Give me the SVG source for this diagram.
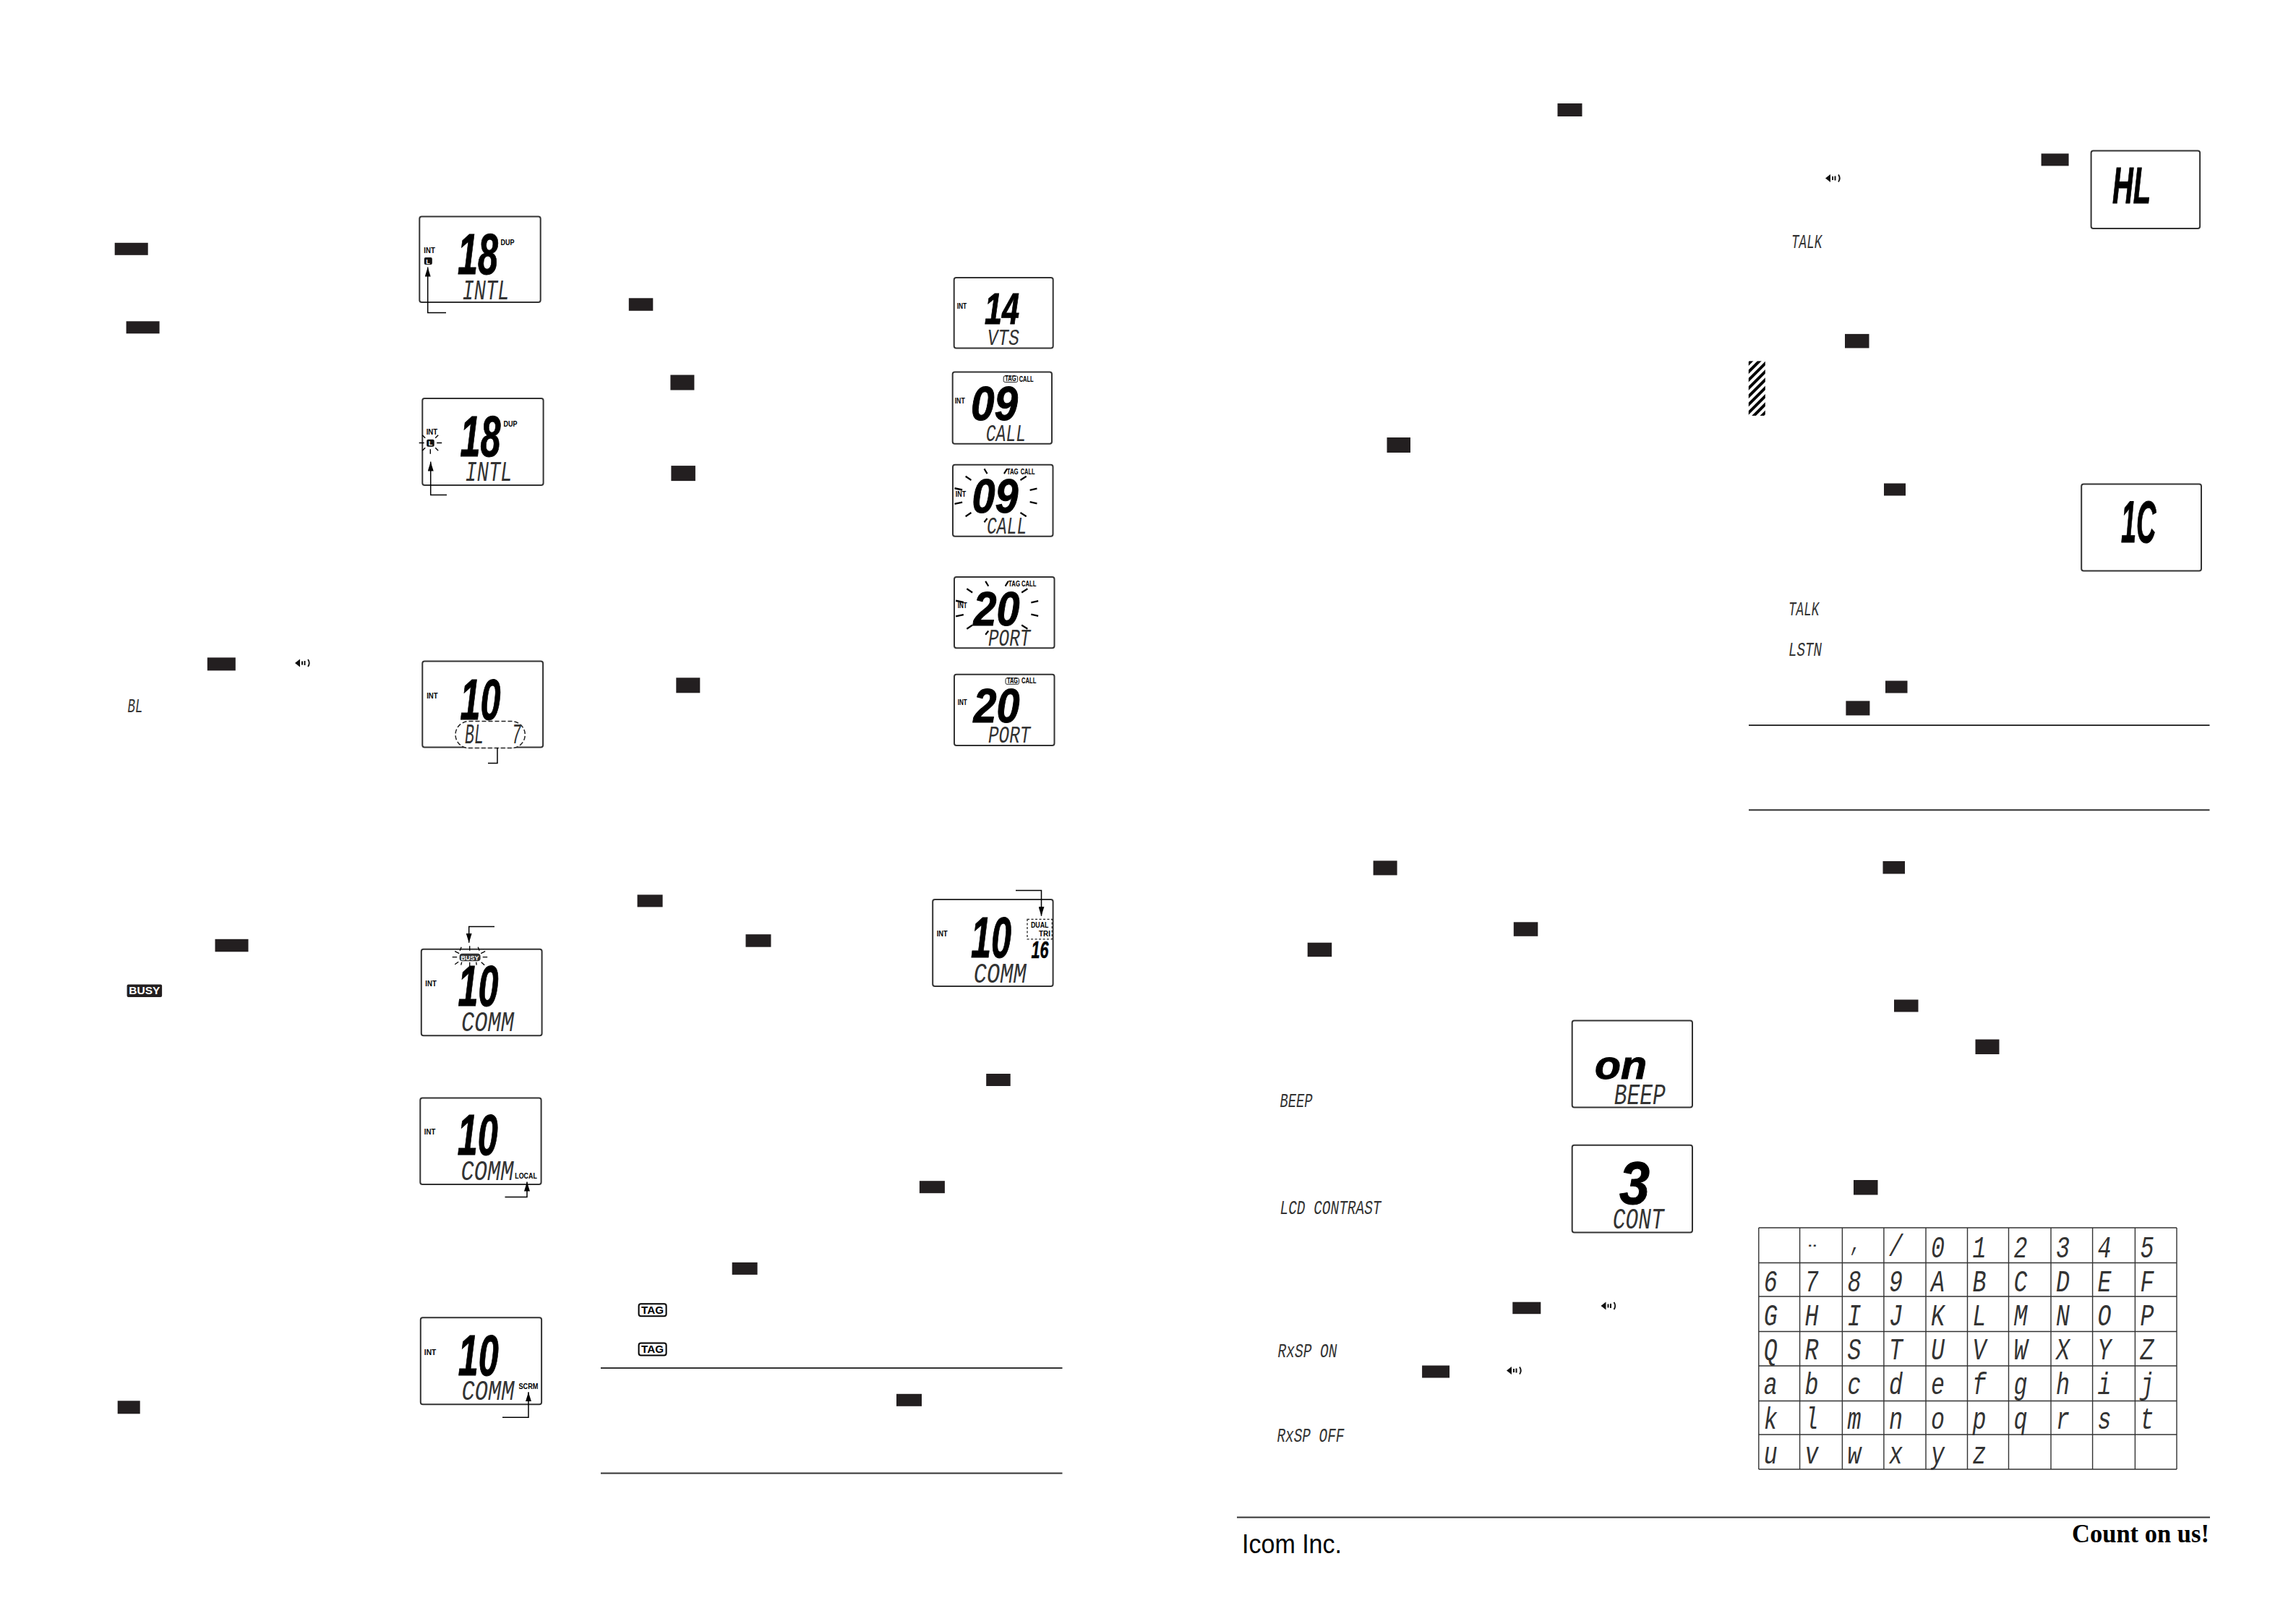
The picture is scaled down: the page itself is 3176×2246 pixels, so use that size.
<svg xmlns="http://www.w3.org/2000/svg" width="3176" height="2246" viewBox="0 0 3176 2246">
<style>
text{font-family:"Liberation Sans",Arial,sans-serif;fill:#000}
.k{fill:#231f20}
.box{fill:#fff;stroke:#333;stroke-width:2}
.lbl{font-weight:700;font-size:10.5px}
.big{font-weight:700;font-style:italic;stroke:#000;stroke-width:1}
.seg{font-family:"Liberation Mono","Courier New",monospace;font-style:italic;fill:#333;white-space:pre}
.rule{stroke:#333;stroke-width:2;fill:none}
.cn{stroke:#000;stroke-width:1.5;fill:none}
.ray{stroke:#000;fill:none}
.grid{stroke:#333;stroke-width:1.4;fill:none}
.wt{fill:#fff;font-weight:700}
</style>
<defs>
<marker id="ah" markerUnits="userSpaceOnUse" markerWidth="13" markerHeight="8" refX="13" refY="4" orient="auto" viewBox="0 0 13 8"><path d="M0 0L13 4L0 8Z" fill="#000"/></marker>
<pattern id="hatch" patternUnits="userSpaceOnUse" width="8" height="8" patternTransform="rotate(45)"><rect width="8" height="8" fill="#fff"/><rect width="4" height="8" fill="#000"/></pattern>
<symbol id="spk" viewBox="0 0 22 12" overflow="visible"><path d="M0 6L7 .5V11.500Z" fill="#111"/><path d="M10 3.500V8.500M13.500 3V9" stroke="#111" stroke-width="2" fill="none"/><path d="M18 1Q21.500 6 18 11" stroke="#111" stroke-width="1.800" fill="none"/></symbol>
</defs>
<rect width="3176" height="2246" fill="#fff"/>

<g id="key-marks">
<rect class="k" x="158.700" y="335.800" width="46" height="17"/>
<rect class="k" x="174.600" y="444.300" width="46" height="17"/>
<rect class="k" x="286.800" y="909.400" width="39" height="18"/>
<rect class="k" x="297.500" y="1298.800" width="46" height="17.500"/>
<rect class="k" x="162.700" y="1937.300" width="31" height="18"/>
<rect class="k" x="869.800" y="412.300" width="33.500" height="17.500"/>
<rect class="k" x="927.400" y="518.500" width="33" height="21"/>
<rect class="k" x="928.400" y="644.100" width="33.500" height="21"/>
<rect class="k" x="935.300" y="937.300" width="33" height="21"/>
<rect class="k" x="881.600" y="1237.400" width="35" height="17"/>
<rect class="k" x="1031.500" y="1292.200" width="35" height="17.500"/>
<rect class="k" x="1364.200" y="1485" width="33.500" height="17"/>
<rect class="k" x="1271.900" y="1633.200" width="35" height="17"/>
<rect class="k" x="1012.700" y="1745.900" width="35" height="17"/>
<rect class="k" x="1240" y="1927.800" width="35" height="17"/>
<rect class="k" x="2154.500" y="143" width="34" height="18"/>
<rect class="k" x="1918.500" y="605" width="32.500" height="21"/>
<rect class="k" x="1899.600" y="1190.400" width="33" height="20"/>
<rect class="k" x="2093.800" y="1275.300" width="33.500" height="19.500"/>
<rect class="k" x="1808.700" y="1303.700" width="33.500" height="19.500"/>
<rect class="k" x="2092.300" y="1800.700" width="39" height="16.500"/>
<rect class="k" x="1967.100" y="1888.500" width="38" height="17"/>
<rect class="k" x="2823.600" y="212.400" width="38" height="17"/>
<rect class="k" x="2552" y="461.900" width="33.500" height="19.500"/>
<rect class="k" x="2606" y="668.500" width="30" height="17"/>
<rect class="k" x="2608" y="941.500" width="30.500" height="17"/>
<rect class="k" x="2553.400" y="969.400" width="33" height="20"/>
<rect class="k" x="2604.500" y="1191" width="30.500" height="17.500"/>
<rect class="k" x="2620" y="1382.500" width="33.500" height="17"/>
<rect class="k" x="2732.500" y="1437.500" width="33" height="20.500"/>
<rect class="k" x="2564" y="1632" width="33.500" height="20.500"/>
</g>

<g id="inline-icons">
<use href="#spk" x="408" y="911" width="22" height="12"/>
<use href="#spk" x="2214.500" y="1800" width="22" height="12"/>
<use href="#spk" x="2084" y="1889.500" width="22" height="12"/>
<use href="#spk" x="2525" y="240.500" width="22" height="12"/>
<g id="busy-badge"><rect class="k" x="175.600" y="1361.600" width="48.500" height="17.500" rx="2"/><text class="wt" x="199.800" y="1375.400" font-size="14.500" text-anchor="middle" textLength="43" lengthAdjust="spacingAndGlyphs">BUSY</text></g>
<g id="tag-badge-1"><rect x="883.600" y="1803.200" width="38" height="17" rx="3" fill="#fff" stroke="#000" stroke-width="2"/><text x="902.600" y="1816.700" font-size="15" font-weight="700" text-anchor="middle" textLength="31" lengthAdjust="spacingAndGlyphs">TAG</text></g>
<g id="tag-badge-2"><rect x="883.600" y="1857.400" width="38" height="17" rx="3" fill="#fff" stroke="#000" stroke-width="2"/><text x="902.600" y="1871.100" font-size="15" font-weight="700" text-anchor="middle" textLength="31" lengthAdjust="spacingAndGlyphs">TAG</text></g>
<rect id="warning-hatch" x="2418.800" y="499.400" width="23" height="75.500" fill="url(#hatch)"/>
</g>

<g id="inline-lcd-text">
<text class="seg" x="176.600" y="984.700" font-size="28" textLength="21" lengthAdjust="spacingAndGlyphs">BL</text>
<text class="seg" x="1770.500" y="1531.200" font-size="28" textLength="45" lengthAdjust="spacingAndGlyphs">BEEP</text>
<text class="seg" x="1770.500" y="1678.500" font-size="27" textLength="140" lengthAdjust="spacingAndGlyphs">LCD CONTRAST</text>
<text class="seg" x="1767.500" y="1877" font-size="27" textLength="82" lengthAdjust="spacingAndGlyphs">RxSP ON</text>
<text class="seg" x="1766.500" y="1994" font-size="27" textLength="93" lengthAdjust="spacingAndGlyphs">RxSP OFF</text>
<text class="seg" x="2478" y="343.200" font-size="27" textLength="42.500" lengthAdjust="spacingAndGlyphs">TALK</text>
<text class="seg" x="2474" y="851" font-size="27" textLength="42.500" lengthAdjust="spacingAndGlyphs">TALK</text>
<text class="seg" x="2474" y="906.500" font-size="27" textLength="46" lengthAdjust="spacingAndGlyphs">LSTN</text>
</g>

<g id="lcd-intl-lock">
<rect class="box" x="580.300" y="299.400" width="167.400" height="118.600" rx="3"/>
<text class="lbl" x="586.300" y="350.400" textLength="15.500" lengthAdjust="spacingAndGlyphs">INT</text>
<rect x="586.800" y="356" width="11" height="10" rx="2" fill="#111"/><text class="wt" x="589.300" y="364.500" font-size="9">L</text>
<text class="lbl" x="692.500" y="339" textLength="19" lengthAdjust="spacingAndGlyphs">DUP</text>
<text class="big" x="633" y="379" font-size="80" textLength="56" lengthAdjust="spacingAndGlyphs">18</text>
<text class="seg" x="639.400" y="413.500" font-size="39" textLength="65" lengthAdjust="spacingAndGlyphs">INTL</text>
</g>
<g id="lcd-intl-flash">
<rect class="box" x="584.300" y="550.900" width="167.300" height="120" rx="3"/>
<text class="lbl" x="589.700" y="600.700" textLength="15.500" lengthAdjust="spacingAndGlyphs">INT</text>
<rect x="590.200" y="607.700" width="10.500" height="10" rx="2" fill="#111"/><text class="wt" x="592.700" y="616.200" font-size="9">L</text>
<text class="lbl" x="696.500" y="590.300" textLength="19" lengthAdjust="spacingAndGlyphs">DUP</text>
<text class="big" x="636.400" y="630.600" font-size="80" textLength="56" lengthAdjust="spacingAndGlyphs">18</text>
<text class="seg" x="643.400" y="665.400" font-size="39" textLength="65" lengthAdjust="spacingAndGlyphs">INTL</text>
<path class="ray" stroke-width="1.400" transform="translate(-3.300,-1.300)" d="M583 613.800H590M607.500 613.800H614.500M598.600 622.500V629M591.500 607L587.500 603M605.500 607L609.500 603M591.500 620.500L587.500 624.500M605.500 620.500L609.500 624.500"/>
</g>
<g id="lcd-bl">
<rect class="box" x="584.300" y="914.500" width="166.800" height="119" rx="3"/>
<rect x="630" y="997.600" width="96.300" height="37" rx="18.500" fill="#fff" stroke="#222" stroke-width="1.500" stroke-dasharray="6 3"/>
<text class="lbl" x="590.200" y="965.800" textLength="15.500" lengthAdjust="spacingAndGlyphs">INT</text>
<text class="big" x="636.400" y="994.600" font-size="80" textLength="56" lengthAdjust="spacingAndGlyphs">10</text>
<text class="seg" x="643" y="1028" font-size="39" textLength="78" lengthAdjust="spacingAndGlyphs" xml:space="preserve">BL   7</text>
</g>
<g id="lcd-busy">
<rect class="box" x="582.800" y="1312.800" width="166.800" height="119.500" rx="3"/>
<text class="lbl" x="588.300" y="1364.100" textLength="15.500" lengthAdjust="spacingAndGlyphs">INT</text>
<rect x="635.600" y="1318.800" width="29" height="10.500" rx="4" fill="#333"/>
<text class="wt" x="650" y="1327.500" font-size="9" text-anchor="middle" textLength="25" lengthAdjust="spacingAndGlyphs">BUSY</text>
<text class="big" x="633.600" y="1391" font-size="80" textLength="56" lengthAdjust="spacingAndGlyphs">10</text>
<text class="seg" x="638" y="1426.300" font-size="39" textLength="73" lengthAdjust="spacingAndGlyphs">COMM</text>
<path class="ray" stroke-width="1.300" transform="translate(-3.800,-.3)" d="M629.500 1324H636M671.500 1324H678M642 1310L640 1315M653.500 1308.500V1315M665 1310L667 1315M633 1316L639 1319M675 1316L669 1319M633 1334L638 1330.500M641.500 1335L642.500 1331M653.500 1337V1331M663 1335L662.500 1331M674 1335L669.500 1331"/>
</g>
<g id="lcd-local">
<rect class="box" x="581.300" y="1518.500" width="167.300" height="119.500" rx="3"/>
<text class="lbl" x="586.800" y="1569.300" textLength="15.500" lengthAdjust="spacingAndGlyphs">INT</text>
<text class="big" x="632.700" y="1597.200" font-size="80" textLength="56" lengthAdjust="spacingAndGlyphs">10</text>
<text class="seg" x="637.500" y="1631.600" font-size="39" textLength="73" lengthAdjust="spacingAndGlyphs">COMM</text>
<text class="lbl" x="712.300" y="1630" textLength="30.500" lengthAdjust="spacingAndGlyphs">LOCAL</text>
</g>
<g id="lcd-scrm">
<rect class="box" x="581.800" y="1822.200" width="167.300" height="120.100" rx="3"/>
<text class="lbl" x="586.800" y="1873.800" textLength="16.500" lengthAdjust="spacingAndGlyphs">INT</text>
<text class="big" x="633.700" y="1902.400" font-size="80" textLength="56" lengthAdjust="spacingAndGlyphs">10</text>
<text class="seg" x="638.500" y="1936.300" font-size="39" textLength="73" lengthAdjust="spacingAndGlyphs">COMM</text>
<text class="lbl" x="717.500" y="1920.900" textLength="27" lengthAdjust="spacingAndGlyphs">SCRM</text>
</g>

<g id="lcd-14">
<rect class="box" x="1319.700" y="384" width="137" height="97.600" rx="3"/>
<text class="lbl" x="1323.700" y="427" font-size="9" textLength="13.500" lengthAdjust="spacingAndGlyphs">INT</text>
<text class="big" x="1362" y="448" font-size="62" textLength="48" lengthAdjust="spacingAndGlyphs">14</text>
<text class="seg" x="1365.800" y="477" font-size="32" textLength="44" lengthAdjust="spacingAndGlyphs">VTS</text>
</g>
<g id="lcd-09">
<rect class="box" x="1317.700" y="514.500" width="137.300" height="99.300" rx="3"/>
<text class="lbl" x="1320.700" y="557.500" font-size="9" textLength="14" lengthAdjust="spacingAndGlyphs">INT</text>
<rect x="1388.200" y="520" width="19.500" height="8.500" rx="2" fill="#fff" stroke="#222" stroke-width="1"/>
<text class="lbl" x="1390.200" y="527" font-size="7.500" textLength="15.500" lengthAdjust="spacingAndGlyphs">TAG</text>
<text class="lbl" x="1409.700" y="527.500" font-size="9" textLength="20" lengthAdjust="spacingAndGlyphs">CALL</text>
<text class="big" x="1343" y="580.800" font-size="66" textLength="65" lengthAdjust="spacingAndGlyphs">09</text>
<text class="seg" x="1363.700" y="609.800" font-size="33" textLength="55.500" lengthAdjust="spacingAndGlyphs">CALL</text>
</g>
<g id="lcd-09-flash">
<rect class="box" x="1318" y="642.700" width="138.500" height="99" rx="3"/>
<text class="lbl" x="1321.700" y="686.700" font-size="9" textLength="14.500" lengthAdjust="spacingAndGlyphs">INT</text>
<text class="lbl" x="1392.700" y="655.700" font-size="7.500" textLength="16" lengthAdjust="spacingAndGlyphs">TAG</text>
<text class="lbl" x="1411.700" y="656.200" font-size="9" textLength="20" lengthAdjust="spacingAndGlyphs">CALL</text>
<text class="big" x="1344.500" y="709" font-size="66" textLength="64" lengthAdjust="spacingAndGlyphs">09</text>
<text class="seg" x="1365" y="738" font-size="33" textLength="55.500" lengthAdjust="spacingAndGlyphs">CALL</text>
<g transform="translate(837.500,359) scale(.41,.4486)"><path class="ray" stroke-width="5.200" d="M1278 645L1288 660M1345 660L1355 645M1215 668L1234 680M1400 680L1420 668M1178 705L1204 710M1432 711L1456 706M1178 753L1204 748M1432 747L1456 752M1215 792L1234 780M1400 780L1420 792M1278 810L1288 798"/></g>
</g>
<g id="lcd-20-flash">
<rect class="box" x="1320" y="798" width="138.500" height="98.300" rx="3"/>
<text class="lbl" x="1324.700" y="841" font-size="9" textLength="13" lengthAdjust="spacingAndGlyphs">INT</text>
<text class="lbl" x="1395" y="811" font-size="7.500" textLength="16" lengthAdjust="spacingAndGlyphs">TAG</text>
<text class="lbl" x="1413" y="811" font-size="9" textLength="20.500" lengthAdjust="spacingAndGlyphs">CALL</text>
<text class="big" x="1346.500" y="864.500" font-size="66" textLength="64" lengthAdjust="spacingAndGlyphs">20</text>
<text class="seg" x="1367" y="892.500" font-size="33" textLength="58.500" lengthAdjust="spacingAndGlyphs">PORT</text>
<g transform="translate(839.200,514.500) scale(.41,.4486)"><path class="ray" stroke-width="5.200" d="M1278 645L1288 660M1345 660L1355 645M1215 668L1234 680M1400 680L1420 668M1178 705L1204 710M1432 711L1456 706M1178 753L1204 748M1432 747L1456 752M1215 792L1234 780M1400 780L1420 792M1278 810L1288 798"/></g>
</g>
<g id="lcd-20">
<rect class="box" x="1320" y="932.800" width="138.500" height="98.300" rx="3"/>
<text class="lbl" x="1324.700" y="975.300" font-size="9" textLength="13" lengthAdjust="spacingAndGlyphs">INT</text>
<rect x="1391" y="937.800" width="18.500" height="8.500" rx="2" fill="#fff" stroke="#222" stroke-width="1"/>
<text class="lbl" x="1393" y="945" font-size="7.500" textLength="15" lengthAdjust="spacingAndGlyphs">TAG</text>
<text class="lbl" x="1413" y="945.300" font-size="9" textLength="20.500" lengthAdjust="spacingAndGlyphs">CALL</text>
<text class="big" x="1346.500" y="998.800" font-size="66" textLength="64" lengthAdjust="spacingAndGlyphs">20</text>
<text class="seg" x="1367" y="1026.800" font-size="33" textLength="58.500" lengthAdjust="spacingAndGlyphs">PORT</text>
</g>
<g id="lcd-dual">
<rect class="box" x="1290.200" y="1243.900" width="166.400" height="120.200" rx="3"/>
<text class="lbl" x="1295.700" y="1294.700" textLength="15" lengthAdjust="spacingAndGlyphs">INT</text>
<text class="big" x="1343" y="1323.600" font-size="80" textLength="56" lengthAdjust="spacingAndGlyphs">10</text>
<text class="seg" x="1346.700" y="1358.500" font-size="39" textLength="73" lengthAdjust="spacingAndGlyphs">COMM</text>
<rect x="1421" y="1271.300" width="34.300" height="27.500" fill="none" stroke="#222" stroke-width="1.300" stroke-dasharray="3 2.500"/>
<text class="lbl" x="1426" y="1283.200" textLength="24.500" lengthAdjust="spacingAndGlyphs">DUAL</text>
<text class="lbl" x="1437" y="1294.700" textLength="16" lengthAdjust="spacingAndGlyphs">TRI</text>
<text class="big" x="1426.500" y="1325.200" font-size="33" style="stroke-width:.5" textLength="24" lengthAdjust="spacingAndGlyphs">16</text>
</g>
<g id="lcd-on">
<rect class="box" x="2174.700" y="1411.500" width="166.300" height="120" rx="3"/>
<text class="big" x="2206" y="1491.800" font-size="56" textLength="72" lengthAdjust="spacingAndGlyphs">on</text>
<text class="seg" x="2232.700" y="1526.800" font-size="41" textLength="71" lengthAdjust="spacingAndGlyphs">BEEP</text>
</g>
<g id="lcd-3">
<rect class="box" x="2174.700" y="1583.700" width="166.300" height="120.700" rx="3"/>
<text class="big" x="2240" y="1664.500" font-size="84" textLength="42" lengthAdjust="spacingAndGlyphs">3</text>
<text class="seg" x="2230.800" y="1699.400" font-size="41" textLength="71" lengthAdjust="spacingAndGlyphs">CONT</text>
</g>
<g id="lcd-hl">
<rect class="box" x="2892.600" y="208.400" width="150.500" height="107.500" rx="3"/>
<text class="big" x="2922" y="281.200" font-size="70" textLength="53" lengthAdjust="spacingAndGlyphs">HL</text>
</g>
<g id="lcd-ic">
<rect class="box" x="2879.200" y="669.500" width="165.800" height="120" rx="3"/>
<text class="big" x="2934" y="750.400" font-size="82" textLength="48.500" lengthAdjust="spacingAndGlyphs">1C</text>
</g>

<g id="connectors">
<path class="cn" marker-end="url(#ah)" d="M617 432.400H591.700V369.600"/>
<path class="cn" marker-end="url(#ah)" d="M618 684.400H595.700V638.600"/>
<path class="cn" d="M688 1034V1055.500H675"/>
<path class="cn" marker-end="url(#ah)" d="M684 1281.600H648.700V1303.800"/>
<path class="cn" marker-end="url(#ah)" d="M698.500 1655.400H729V1634.500"/>
<path class="cn" marker-end="url(#ah)" d="M695 1960.200H731V1925.300"/>
<path class="cn" marker-end="url(#ah)" d="M1405 1231.400H1440.500V1266.800"/>
</g>

<g id="rules">
<path class="rule" d="M831 1892H1469.500M831 2037.500H1469.500M2419 1003H3056.500M2419 1120.300H3056.500M1711 2098.500H3057"/>
</g>

<g id="char-table">
<path class="grid" d="M2432.800 1698H3011M2432.800 1746.500H3011M2432.800 1793H3011M2432.800 1841.500H3011M2432.800 1889H3011M2432.800 1937.500H3011M2432.800 1984H3011M2432.800 2032H3011M2432.800 1698V2032M2489.600 1698V2032M2548.400 1698V2032M2605.900 1698V2032M2664 1698V2032M2721.500 1698V2032M2778.500 1698V2032M2837 1698V2032M2894.600 1698V2032M2953.400 1698V2032M3011 1698V2032"/>
<g font-size="42">
<text class="seg" x="2500.500" y="1732" font-size="34" textLength="13" lengthAdjust="spacingAndGlyphs">--</text>
<text class="seg" x="2560" y="1730" font-size="34" textLength="14" lengthAdjust="spacingAndGlyphs">,</text>
<text class="seg" x="2612.900" y="1737" textLength="19" lengthAdjust="spacingAndGlyphs">/</text>
<text class="seg" x="2671" y="1739" textLength="19" lengthAdjust="spacingAndGlyphs">0</text>
<text class="seg" x="2728.500" y="1739" textLength="19" lengthAdjust="spacingAndGlyphs">1</text>
<text class="seg" x="2785.500" y="1739" textLength="19" lengthAdjust="spacingAndGlyphs">2</text>
<text class="seg" x="2844" y="1739" textLength="19" lengthAdjust="spacingAndGlyphs">3</text>
<text class="seg" x="2901.600" y="1739" textLength="19" lengthAdjust="spacingAndGlyphs">4</text>
<text class="seg" x="2960.400" y="1739" textLength="19" lengthAdjust="spacingAndGlyphs">5</text>
<text class="seg" x="2439.800" y="1786" textLength="19" lengthAdjust="spacingAndGlyphs">6</text>
<text class="seg" x="2496.600" y="1786" textLength="19" lengthAdjust="spacingAndGlyphs">7</text>
<text class="seg" x="2555.400" y="1786" textLength="19" lengthAdjust="spacingAndGlyphs">8</text>
<text class="seg" x="2612.900" y="1786" textLength="19" lengthAdjust="spacingAndGlyphs">9</text>
<text class="seg" x="2671" y="1786" textLength="19" lengthAdjust="spacingAndGlyphs">A</text>
<text class="seg" x="2728.500" y="1786" textLength="19" lengthAdjust="spacingAndGlyphs">B</text>
<text class="seg" x="2785.500" y="1786" textLength="19" lengthAdjust="spacingAndGlyphs">C</text>
<text class="seg" x="2844" y="1786" textLength="19" lengthAdjust="spacingAndGlyphs">D</text>
<text class="seg" x="2901.600" y="1786" textLength="19" lengthAdjust="spacingAndGlyphs">E</text>
<text class="seg" x="2960.400" y="1786" textLength="19" lengthAdjust="spacingAndGlyphs">F</text>
<text class="seg" x="2439.800" y="1833" textLength="19" lengthAdjust="spacingAndGlyphs">G</text>
<text class="seg" x="2496.600" y="1833" textLength="19" lengthAdjust="spacingAndGlyphs">H</text>
<text class="seg" x="2555.400" y="1833" textLength="19" lengthAdjust="spacingAndGlyphs">I</text>
<text class="seg" x="2612.900" y="1833" textLength="19" lengthAdjust="spacingAndGlyphs">J</text>
<text class="seg" x="2671" y="1833" textLength="19" lengthAdjust="spacingAndGlyphs">K</text>
<text class="seg" x="2728.500" y="1833" textLength="19" lengthAdjust="spacingAndGlyphs">L</text>
<text class="seg" x="2785.500" y="1833" textLength="19" lengthAdjust="spacingAndGlyphs">M</text>
<text class="seg" x="2844" y="1833" textLength="19" lengthAdjust="spacingAndGlyphs">N</text>
<text class="seg" x="2901.600" y="1833" textLength="19" lengthAdjust="spacingAndGlyphs">O</text>
<text class="seg" x="2960.400" y="1833" textLength="19" lengthAdjust="spacingAndGlyphs">P</text>
<text class="seg" x="2439.800" y="1880" textLength="19" lengthAdjust="spacingAndGlyphs">Q</text>
<text class="seg" x="2496.600" y="1880" textLength="19" lengthAdjust="spacingAndGlyphs">R</text>
<text class="seg" x="2555.400" y="1880" textLength="19" lengthAdjust="spacingAndGlyphs">S</text>
<text class="seg" x="2612.900" y="1880" textLength="19" lengthAdjust="spacingAndGlyphs">T</text>
<text class="seg" x="2671" y="1880" textLength="19" lengthAdjust="spacingAndGlyphs">U</text>
<text class="seg" x="2728.500" y="1880" textLength="19" lengthAdjust="spacingAndGlyphs">V</text>
<text class="seg" x="2785.500" y="1880" textLength="19" lengthAdjust="spacingAndGlyphs">W</text>
<text class="seg" x="2844" y="1880" textLength="19" lengthAdjust="spacingAndGlyphs">X</text>
<text class="seg" x="2901.600" y="1880" textLength="19" lengthAdjust="spacingAndGlyphs">Y</text>
<text class="seg" x="2960.400" y="1880" textLength="19" lengthAdjust="spacingAndGlyphs">Z</text>
<text class="seg" x="2439.800" y="1928" textLength="19" lengthAdjust="spacingAndGlyphs">a</text>
<text class="seg" x="2496.600" y="1928" textLength="19" lengthAdjust="spacingAndGlyphs">b</text>
<text class="seg" x="2555.400" y="1928" textLength="19" lengthAdjust="spacingAndGlyphs">c</text>
<text class="seg" x="2612.900" y="1928" textLength="19" lengthAdjust="spacingAndGlyphs">d</text>
<text class="seg" x="2671" y="1928" textLength="19" lengthAdjust="spacingAndGlyphs">e</text>
<text class="seg" x="2728.500" y="1928" textLength="19" lengthAdjust="spacingAndGlyphs">f</text>
<text class="seg" x="2785.500" y="1928" textLength="19" lengthAdjust="spacingAndGlyphs">g</text>
<text class="seg" x="2844" y="1928" textLength="19" lengthAdjust="spacingAndGlyphs">h</text>
<text class="seg" x="2901.600" y="1928" textLength="19" lengthAdjust="spacingAndGlyphs">i</text>
<text class="seg" x="2960.400" y="1928" textLength="19" lengthAdjust="spacingAndGlyphs">j</text>
<text class="seg" x="2439.800" y="1976" textLength="19" lengthAdjust="spacingAndGlyphs">k</text>
<text class="seg" x="2496.600" y="1976" textLength="19" lengthAdjust="spacingAndGlyphs">l</text>
<text class="seg" x="2555.400" y="1976" textLength="19" lengthAdjust="spacingAndGlyphs">m</text>
<text class="seg" x="2612.900" y="1976" textLength="19" lengthAdjust="spacingAndGlyphs">n</text>
<text class="seg" x="2671" y="1976" textLength="19" lengthAdjust="spacingAndGlyphs">o</text>
<text class="seg" x="2728.500" y="1976" textLength="19" lengthAdjust="spacingAndGlyphs">p</text>
<text class="seg" x="2785.500" y="1976" textLength="19" lengthAdjust="spacingAndGlyphs">q</text>
<text class="seg" x="2844" y="1976" textLength="19" lengthAdjust="spacingAndGlyphs">r</text>
<text class="seg" x="2901.600" y="1976" textLength="19" lengthAdjust="spacingAndGlyphs">s</text>
<text class="seg" x="2960.400" y="1976" textLength="19" lengthAdjust="spacingAndGlyphs">t</text>
<text class="seg" x="2439.800" y="2024" textLength="19" lengthAdjust="spacingAndGlyphs">u</text>
<text class="seg" x="2496.600" y="2024" textLength="19" lengthAdjust="spacingAndGlyphs">v</text>
<text class="seg" x="2555.400" y="2024" textLength="19" lengthAdjust="spacingAndGlyphs">w</text>
<text class="seg" x="2612.900" y="2024" textLength="19" lengthAdjust="spacingAndGlyphs">x</text>
<text class="seg" x="2671" y="2024" textLength="19" lengthAdjust="spacingAndGlyphs">y</text>
<text class="seg" x="2728.500" y="2024" textLength="19" lengthAdjust="spacingAndGlyphs">z</text>
</g>
</g>

<g id="footer">
<text x="1718" y="2148" font-size="36" textLength="138" lengthAdjust="spacingAndGlyphs">Icom Inc.</text>
<text x="2866" y="2133" font-size="36" font-weight="700" textLength="190" lengthAdjust="spacingAndGlyphs" style="font-family:'Liberation Serif','Times New Roman',serif">Count on us!</text>
</g>
</svg>
